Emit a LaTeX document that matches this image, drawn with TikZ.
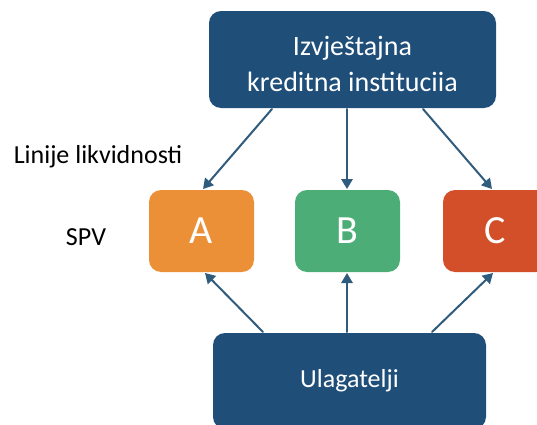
\documentclass[tikz,border=0pt]{standalone}
\usepackage{fontspec}
\setmainfont{Carlito}
\usetikzlibrary{arrows.meta}
\def\spvW{78.75pt}
\def\spvH{61.5pt}
\def\spvY{231}
\definecolor{instblue}{RGB}{31,78,121}
\definecolor{linkblue}{RGB}{47,92,124}
\definecolor{spvorange}{RGB}{236,144,56}
\definecolor{spvgreen}{RGB}{76,174,118}
\definecolor{spvred}{RGB}{211,79,41}
\newcommand{\lblfont}{\fontsize{19.5}{27}\selectfont}
\newcommand{\instfont}{\fontsize{21}{27}\selectfont}

\begin{document}
\begin{tikzpicture}[x=0.75pt,y=-0.75pt,line width=1.5pt,line cap=round,
  box/.style={rectangle,rounded corners=9pt,inner sep=0pt,text=white,align=center},
  link/.style={linkblue,-{Triangle[length=7.5pt,width=8.5pt]}}]
  \useasboundingbox (0,0) rectangle (537,425);
  \clip (0,0) rectangle (537,425);
  % institution and investors
  \node[box,fill=instblue,minimum width=215.25pt,minimum height=72.75pt]
    (inst) at (352.5,59.5) {};
  \node[font=\instfont,text=white,align=center] (insttxt) at (352.5,64)
    {Izvještajna\\kreditna instituciia};
  \node[box,fill=instblue,minimum width=204.75pt,minimum height=72pt,font=\lblfont]
    (inv) at (349.5,381) {Ulagatelji};
  % SPV boxes
  \foreach \n/\x/\c in {A/201.5/spvorange, B/347.5/spvgreen, C/495.5/spvred} {
    \node[box,fill=\c,minimum width=\spvW,minimum height=\spvH,font=\fontsize{30}{30}\selectfont]
      (\n) at (\x,\spvY) {\n};
  }
  % liquidity lines and investor funding
  \foreach \n/\ts/\te/\bs/\be in {A/-80.5/1.5/-86.5/3.5, B/-5.5/-0.5/-2.5/-0.5, C/70.5/-3.5/82.5/-2.5} {
    \draw[link] ([shift={(\ts,0)}]inst.south) -- ([shift={(\te,0)}]\n.north);
    \draw[link] ([shift={(\bs,0)}]inv.north) -- ([shift={(\be,0)}]\n.south);
  }
  \node[font=\lblfont,anchor=base] (liq) at (98,163) {Linije likvidnosti};
  \node[font=\lblfont,anchor=base] (spv) at (86,245) {SPV};
\end{tikzpicture}
\end{document}
